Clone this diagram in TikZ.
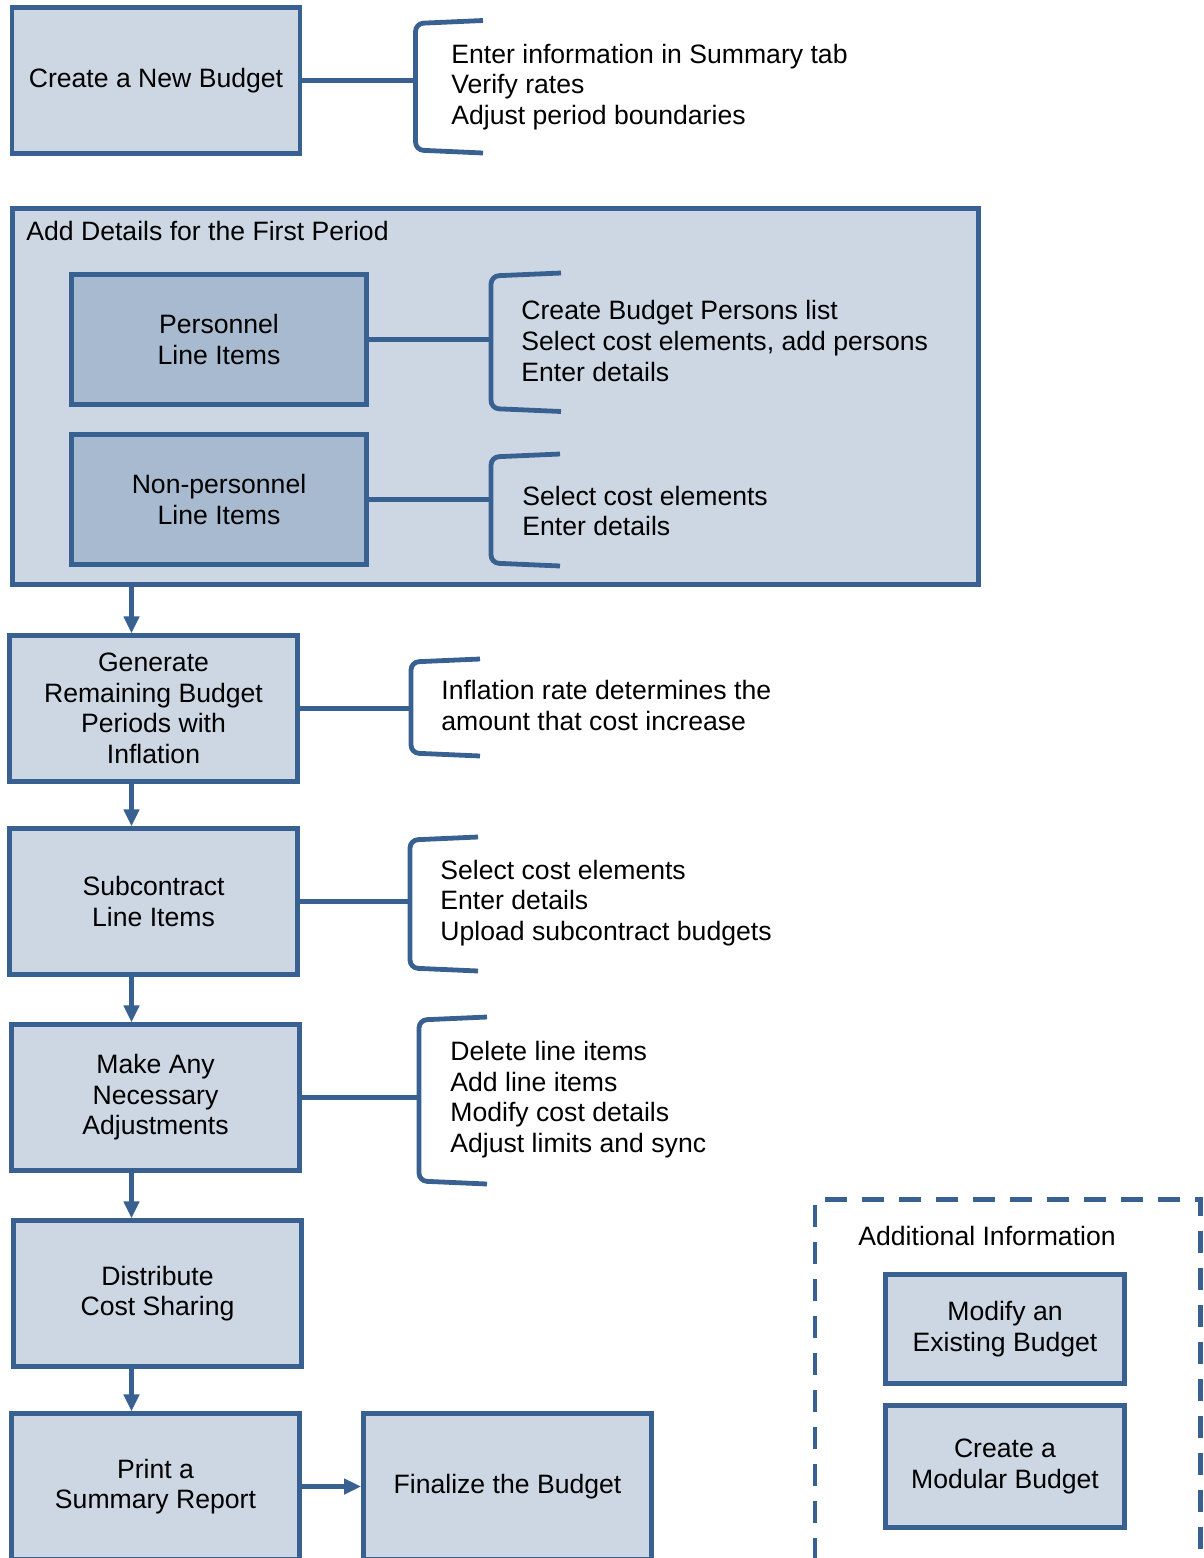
\documentclass[tikz,border=0pt]{standalone}
\usepackage{fontspec}
\setmainfont{Liberation Sans}
\usetikzlibrary{arrows.meta}
\definecolor{edge}{RGB}{56,97,145}
\definecolor{pale}{RGB}{205,215,227}
\definecolor{mid}{RGB}{168,186,208}
\tikzset{
  stepbox/.style={draw=edge,fill=pale,line width=2.4pt,minimum width=144pt,minimum height=72.75pt,align=center,inner sep=0pt},
  itembox/.style={stepbox,fill=mid,minimum width=147.5pt,minimum height=65pt},
  notes/.style={anchor=west,align=left,inner sep=0pt},
  link/.style={draw=edge,line width=2.4pt},
  flow/.style={link,-{Triangle[width=7.5pt,length=8.5pt]}},
  brace/.style={link,rounded corners=4pt},
}

\begin{document}
\begin{tikzpicture}[x=0.5pt,y=-0.5pt,font=\fontsize{13.3}{15.3}\selectfont]
\useasboundingbox (0,0) rectangle (1204,1558);
\node[stepbox,minimum width=483pt,minimum height=188pt] (first) at (495.5,396.5) {};
\node[notes] (firsttitle) at (26,231) {Add Details for the First Period};
\node[draw=edge,line width=2.4pt,dash pattern=on 11pt off 7.5pt,minimum width=192.75pt,minimum height=185.25pt] (extra) at (1007.75,1384.75) {};
\node[notes] (extratitle) at (858,1236) {Additional Information};

\node[stepbox] (new) at (156,80.5) {Create a New Budget};
\node[itembox] (personnel) at (219,339.5) {Personnel\\Line Items};
\node[itembox] (nonpersonnel) at (219,499.5) {Non-personnel\\Line Items};
\node[stepbox] (generate) at (153.5,708.5) {Generate\\Remaining Budget\\Periods with\\Inflation};
\node[stepbox] (subcontract) at (153.5,901.5) {Subcontract\\Line Items};
\node[stepbox] (adjust) at (155.5,1097.5) {Make Any\\Necessary\\Adjustments};
\node[stepbox] (distribute) at (157.5,1293.5) {Distribute\\Cost Sharing};
\node[stepbox] (print) at (155.5,1486.5) {Print a\\Summary Report};
\node[stepbox] (finalize) at (507.5,1486.5) {Finalize the Budget};
\node[stepbox,minimum width=119.5pt,minimum height=54.5pt] (modify) at (1005,1329) {Modify an\\Existing Budget};
\node[stepbox,minimum width=119.5pt,minimum height=61pt] (modular) at (1005,1466.5) {Create a\\Modular Budget};

\node[notes] (newnotes) at (451,87) {Enter information in Summary tab\\Verify rates\\Adjust period boundaries};
\node[notes] (personnelnotes) at (521,341) {Create Budget Persons list\\Select cost elements, add persons\\Enter details};
\node[notes] (nonpersonnelnotes) at (522,511) {Select cost elements\\Enter details};
\node[notes] (generatenotes) at (441,705.5) {Inflation rate determines the\\amount that cost increase};
\node[notes] (subcontractnotes) at (440,903) {Select cost elements\\Enter details\\Upload subcontract budgets};
\node[notes] (adjustnotes) at (450,1099.5) {Delete line items\\Add line items\\Modify cost details\\Adjust limits and sync};

\foreach \from/\xa/\ya/\yb/\xb in {new/415.5/20.5/153/483,personnel/491/273/411.5/561,nonpersonnel/491/454/566/560,generate/411/659/756/480,subcontract/410/837/971/478,adjust/419/1017/1184/487} {
    \draw[brace] (\xb,\ya) -- (\xa,\ya+3) -- (\xa,\yb-3) -- (\xb,\yb);
    \draw[link] (\from.east) -- (\from.east -| \xa,0);
}

\foreach \a/\b in {first/generate,generate/subcontract,subcontract/adjust,adjust/distribute,distribute/print}
    \draw[flow] (\a.south -| 131.5,0) -- (\b.north -| 131.5,0);
\draw[flow] (print.east) -- (finalize.west);
\end{tikzpicture}
\end{document}
